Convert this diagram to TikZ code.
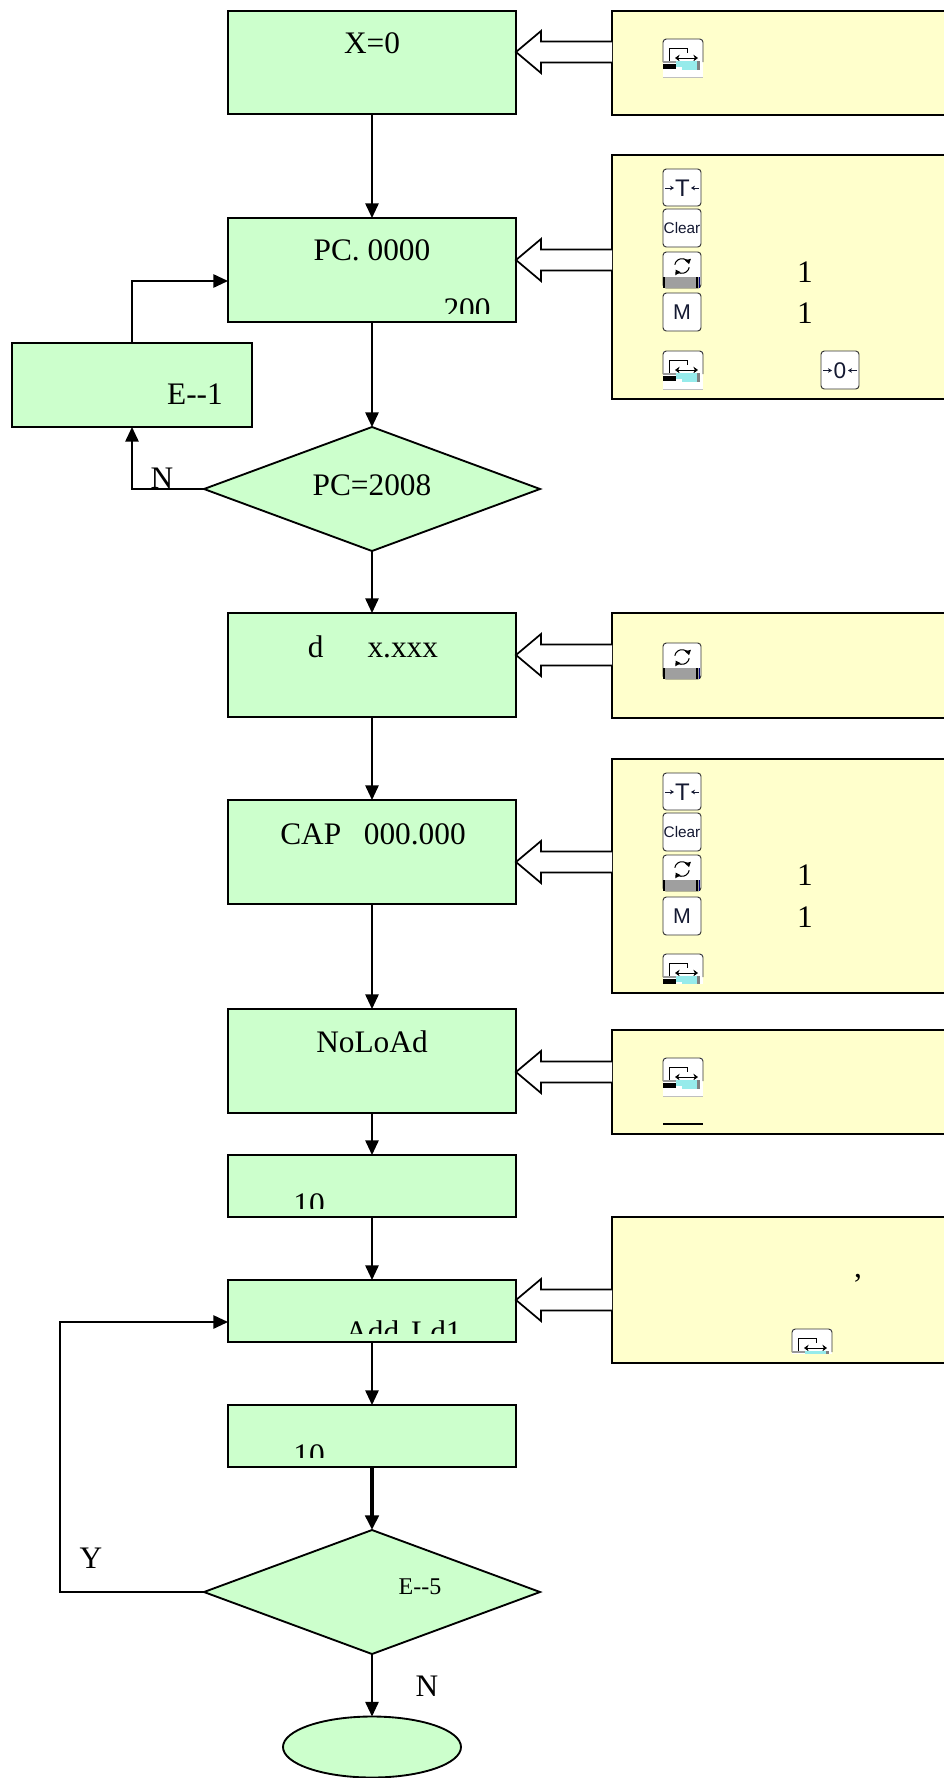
\documentclass[tikz,border=0pt]{standalone}
\usepackage{fontspec}
\setmainfont{Liberation Serif}
\newfontfamily\iconfont{Liberation Sans}
\usetikzlibrary{arrows.meta,shapes.geometric,calc}
\definecolor{boxgreen}{RGB}{204,255,204}
\definecolor{boxyellow}{RGB}{255,255,204}
\definecolor{icontext}{RGB}{20,25,50}
\definecolor{iconcyan}{RGB}{150,235,235}
\newcommand\hollowarrow[3]{%
 \pgfmathsetmacro\hatop{#3-21}\pgfmathsetmacro\hstop{#3-10.5}%
 \pgfmathsetmacro\hsbot{#3+10.5}\pgfmathsetmacro\habot{#3+21}%
 \draw[harr] (#2.west |- 0,\hstop) -- (541,\hstop) -- (541,\hatop) -- (#1.east |- 0,#3)
   -- (541,\habot) -- (541,\hsbot) -- (#2.west |- 0,\hsbot);}
\tikzset{
 keyframe/.style={draw=black!80, line width=0.7pt, fill=white, rounded corners=2.5pt},
 keytext/.style={text=icontext, inner sep=0pt},
 smallarr/.style={line width=0.7pt, draw=icontext, -{Stealth[length=3pt,width=3.5pt]}},
 tarekey/.pic={
  \draw[keyframe] (0,0) rectangle (38,37);
  \node[keytext, font=\iconfont\fontsize{18}{18}\selectfont] at (19.5,19) {T};
  \draw[smallarr] (2,19) -- (11,19);
  \draw[smallarr] (36,19) -- (28,19);
 },
 zerokey/.pic={
  \draw[keyframe] (0,0) rectangle (38,38);
  \node[keytext, font=\iconfont\fontsize{17}{17}\selectfont] at (19,19.5) {0};
  \draw[smallarr] (2,19.5) -- (11,19.5);
  \draw[smallarr] (36,19.5) -- (27,19.5);
 },
 clearkey/.pic={
  \draw[keyframe] (0,0) rectangle (38,38);
  \node[keytext, font=\iconfont\fontsize{11.5}{11.5}\selectfont] at (19,19.5) {Clear};
 },
 mkey/.pic={
  \draw[keyframe] (0,0) rectangle (38,38);
  \node[keytext, font=\iconfont\fontsize{16}{16}\selectfont] at (19,19.5) {M};
 },
 rotkey/.pic={
  \draw[keyframe] (0,0) rectangle (38,36);
  \draw[line width=0.8pt, -{Triangle[length=3.5pt,width=4.5pt]}] (19,14) ++(170:5.5pt) arc[start angle=170, end angle=15, radius=5.5pt];
  \draw[line width=0.8pt, -{Triangle[length=3.5pt,width=4.5pt]}] (19,14) ++(-10:5.5pt) arc[start angle=-10, end angle=-150, radius=5.5pt];
  \fill[gray!75] (1,25) rectangle (37,36);
  \fill[black] (0,25) rectangle (2,36);
  \fill[black] (33,25) rectangle (34.5,36);
  \fill[blue!50!black] (35.5,25) rectangle (37,36);
 },
 switchkey/.pic={
  \fill[white] (0,0) rectangle (40,39);
  \draw[black!80, line width=0.7pt, rounded corners=2.5pt] (0,23) -- (0,0) -- (40,0) -- (40,23);
  \draw[line width=0.7pt] (6,23) -- (6,9) -- (24,9) -- (24,14);
  \draw[line width=0.7pt, {Stealth[length=3.5pt,width=5pt]}-{Stealth[length=3.5pt,width=5pt]}] (12,19) -- (35,19);
  \fill[iconcyan] (13,22) rectangle (34,31);
  \fill[black] (0,25) rectangle (13,30);
  \fill[black!40] (0,22) rectangle (13,24);
  \fill[white] (13,28) rectangle (19,38);
  \fill[gray] (34,22) rectangle (37,31);
  \draw[black!25, line width=0.6pt] (0,38.5) -- (40,38.5);
 },
}
\begin{document}
\begin{tikzpicture}[x=0.75pt,y=-0.75pt,
  every node/.style={inner sep=0pt, outer sep=0pt},
  mainbox/.style={draw=black, line width=1.4pt, fill=boxgreen, rectangle, minimum width=216pt, anchor=north west},
  sidebox/.style={draw=black, line width=1.4pt, fill=boxyellow, rectangle, minimum width=257pt, anchor=north west},
  decision/.style={draw=black, line width=1.4pt, fill=boxgreen, diamond, minimum width=252pt, minimum height=93pt},
  endnode/.style={draw=black, line width=1.4pt, fill=boxgreen, ellipse, minimum width=133.5pt, minimum height=45.75pt},
  arr/.style={line width=1.3pt, -{Triangle[length=11pt,width=10pt]}},
  harr/.style={draw=black, line width=1.3pt, fill=white},
  lbl/.style={font=\fontsize{23.5}{28}\selectfont, anchor=base},
  slbl/.style={font=\fontsize{18}{22}\selectfont, anchor=base},
]
\useasboundingbox (0,0) rectangle (944,1778);
\clip (0,0) rectangle (944,1778);

% side boxes
\node[sidebox, minimum height=78pt] (r1) at (612,11) {};
\node[sidebox, minimum height=183pt] (r2) at (612,155) {};
\node[sidebox, minimum height=78.75pt] (r3) at (612,613) {};
\node[sidebox, minimum height=175.5pt] (r4) at (612,759) {};
\node[sidebox, minimum height=78pt] (r5) at (612,1030) {};
\node[sidebox, minimum height=109.5pt] (r7) at (612,1217) {};

% main boxes
\node[mainbox, minimum height=77.25pt] (b1) at (228,11) {};
\node[mainbox, minimum height=78pt] (b2) at (228,218) {};
\node[mainbox, minimum height=78pt] (b3) at (228,613) {};
\node[mainbox, minimum height=78pt] (b4) at (228,800) {};
\node[mainbox, minimum height=78pt] (b5) at (228,1009) {};
\node[mainbox, minimum height=46.5pt] (b6) at (228,1155) {};
\node[mainbox, minimum height=46.5pt] (b7) at (228,1280) {};
\node[mainbox, minimum height=46.5pt] (b8) at (228,1405) {};
\node[mainbox, minimum width=180pt, minimum height=63pt] (e1) at (12,343) {};
\node[decision] (d1) at (372,489) {};
\node[decision] (d2) at (372,1592) {};
\node[endnode] (ell) at (372,1747) {};
\coordinate (ycorner) at (60,1592);

% connectors
\draw[arr] (b1) -- (b2);
\draw[arr] (b2) -- (d1);
\draw[arr] (d1) -- (b3);
\draw[arr] (b3) -- (b4);
\draw[arr] (b4) -- (b5);
\draw[arr] (b5) -- (b6);
\draw[arr] (b6) -- (b7);
\draw[arr] (b7) -- (b8);
\draw[arr, line width=2.6pt] (b8) -- (d2);
\draw[arr] (d2) -- (ell);
\draw[arr] (d1.west) -| (e1.south);
\draw[arr] (e1.north) |- (b2.west |- 0,281);
\draw[arr] (d2.west) -- (ycorner) |- (b7.west |- 0,1322);

% hollow arrows
\hollowarrow{b1}{r1}{52}
\hollowarrow{b2}{r2}{260}
\hollowarrow{b3}{r3}{655}
\hollowarrow{b4}{r4}{862}
\hollowarrow{b5}{r5}{1072}
\hollowarrow{b7}{r7}{1300}

% texts
\node[lbl] (t1) at (372,53) {X=0};
\node[lbl] (t2) at (372,260) {PC. 0000};
\begin{scope}
 \clip (228,218) rectangle (516,313);
 \node[lbl] (t2b) at (467,319) {200};
\end{scope}
\node[lbl] (te1) at (195,404) {E-{}-1};
\node[lbl] (tn1) at (162,488) {N};
\node[lbl] (td1) at (372,495) {PC=2008};
\node[lbl] (t3) at (373,657) {d\hspace{33pt}x.xxx};
\node[lbl] (t4) at (373,844) {CAP\hspace{17pt}000.000};
\node[lbl] (t5) at (372,1052) {NoLoAd};
\begin{scope}
 \clip (228,1155) rectangle (516,1208);
 \node[lbl] (t6) at (309,1214) {10};
\end{scope}
\begin{scope}
 \clip (228,1280) rectangle (516,1333);
 \node[lbl] (t7) at (403.5,1342) {Add\hspace{3pt} Ld1};
\end{scope}
\begin{scope}
 \clip (228,1405) rectangle (516,1457);
 \node[lbl] (t8) at (309,1465) {10};
\end{scope}
\node[lbl] (ty) at (91,1568) {Y};
\node[slbl] (te5) at (420,1594) {E-{}-5};
\node[lbl] (tn2) at (427,1696) {N};
\node[lbl] (o1) at (805,282) {1};
\node[lbl] (o2) at (805,323) {1};
\node[lbl] (o3) at (805,885) {1};
\node[lbl] (o4) at (805,927) {1};
\node[lbl] (comma) at (858,1277) {,};

% icons
\pic at (663,39) {switchkey};
\pic at (663,169) {tarekey};
\pic at (663,209) {clearkey};
\pic at (663,252) {rotkey};
\pic at (663,293) {mkey};
\pic at (663,351) {switchkey};
\pic at (821,351) {zerokey};
\pic at (663,643) {rotkey};
\pic at (663,773) {tarekey};
\pic at (663,813) {clearkey};
\pic at (663,855) {rotkey};
\pic at (663,897) {mkey};
\begin{scope}
 \clip (655,950) rectangle (710,983);
 \pic at (663,954) {switchkey};
\end{scope}
\pic at (663,1058) {switchkey};
\draw[line width=0.8pt] (663,1124) -- (703,1124);
\begin{scope}
 \clip (785,1325) rectangle (840,1353);
 \pic at (792,1329) {switchkey};
\end{scope}
\end{tikzpicture}
\end{document}
